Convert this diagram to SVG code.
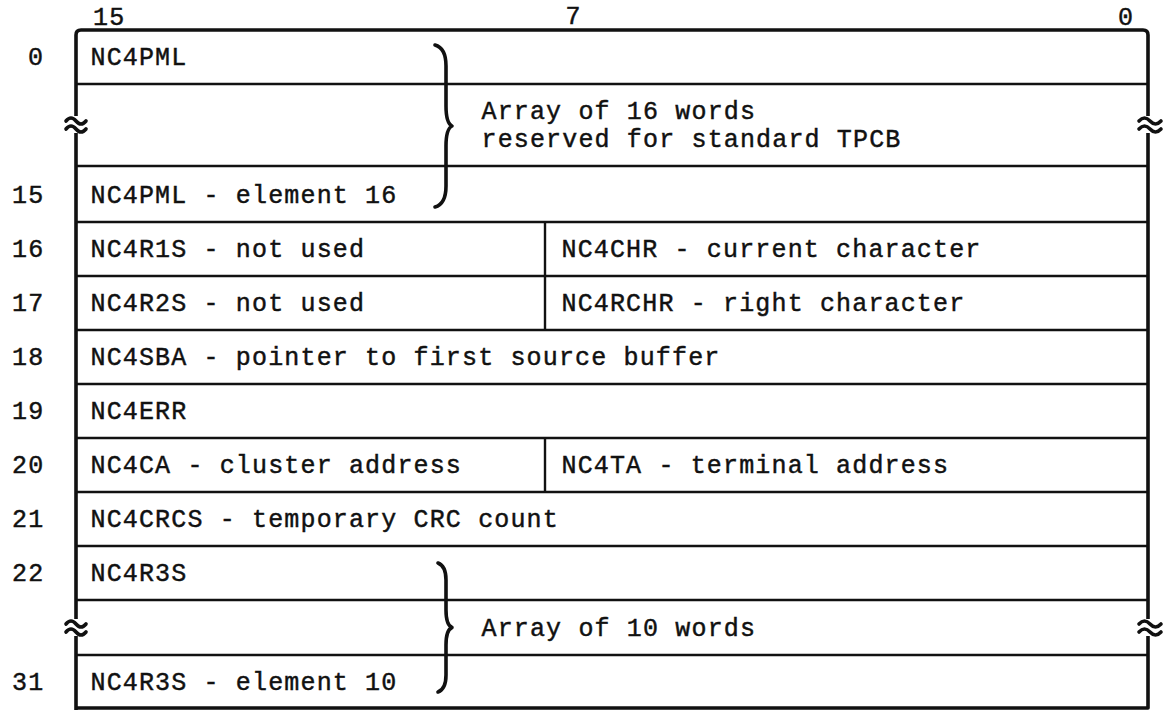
<svg xmlns="http://www.w3.org/2000/svg" width="1168" height="710" viewBox="0 0 1168 710">
<style>
  text { font-family: "Liberation Mono", "DejaVu Sans Mono", monospace; font-size: 25px; letter-spacing: 1.15px; fill: #111; stroke: #111; stroke-width: 0.45px; }
  .frame { fill: none; stroke: #111; stroke-width: 3.6; stroke-linejoin: round; }
  .row { fill: none; stroke: #111; stroke-width: 2.7; }
  .div { fill: none; stroke: #111; stroke-width: 2.4; }
  .brace { fill: none; stroke: #111; stroke-width: 3.6; stroke-linecap: round; stroke-linejoin: round; }
  .tilde { fill: none; stroke: #111; stroke-width: 3.6; stroke-linecap: round; }
  .gap { fill: #fff; stroke: none; }
</style>
<rect width="1168" height="710" fill="#fff"/>

<g id="bit-labels">
  <text x="93" y="25">15</text>
  <text x="565.5" y="24">7</text>
  <text x="1118" y="25">0</text>
</g>

<g id="frame">
  <path class="frame" d="M76,710 L76,35 Q76,30 81,30 L1143,30 Q1148,30 1148,35 L1148,708 L76,708"/>
</g>

<g id="connectors">
  <line class="row" x1="76" y1="84" x2="1148" y2="84"/>
  <line class="row" x1="76" y1="166" x2="1148" y2="166"/>
  <line class="row" x1="76" y1="222" x2="1148" y2="222"/>
  <line class="row" x1="76" y1="276" x2="1148" y2="276"/>
  <line class="row" x1="76" y1="330" x2="1148" y2="330"/>
  <line class="row" x1="76" y1="384" x2="1148" y2="384"/>
  <line class="row" x1="76" y1="438" x2="1148" y2="438"/>
  <line class="row" x1="76" y1="492" x2="1148" y2="492"/>
  <line class="row" x1="76" y1="546" x2="1148" y2="546"/>
  <line class="row" x1="76" y1="600" x2="1148" y2="600"/>
  <line class="row" x1="76" y1="655" x2="1148" y2="655"/>
  <line class="div" x1="545" y1="222" x2="545" y2="330"/>
  <line class="div" x1="545" y1="438" x2="545" y2="492"/>
</g>

<g id="breaks">
  <rect class="gap" x="70" y="116" width="12" height="17"/>
  <rect class="gap" x="1142" y="116" width="12" height="17"/>
  <rect class="gap" x="70" y="619" width="12" height="17"/>
  <rect class="gap" x="1142" y="619" width="12" height="17"/>
  <path class="tilde" d="M66,121 q5,-6 10,0 t10,0 M66,129 q5,-6 10,0 t10,0"/>
  <path class="tilde" d="M1139,121 q5.5,-6 11,0 t11,0 M1139,129 q5.5,-6 11,0 t11,0"/>
  <path class="tilde" d="M66,624 q5,-6 10,0 t10,0 M66,632 q5,-6 10,0 t10,0"/>
  <path class="tilde" d="M1139,624 q5.5,-6 11,0 t11,0 M1139,632 q5.5,-6 11,0 t11,0"/>
</g>

<g id="word-0">
  <text x="28" y="65">0</text>
  <text x="90.5" y="65">NC4PML</text>
</g>
<g id="array-16">
  <path class="brace" d="M435,45 Q446,48 446,66 L446,106 Q446,123 452,126 Q446,129 446,146 L446,186 Q446,204 435,207"/>
  <text x="481.5" y="119">Array of 16 words</text>
  <text x="481.5" y="146.5">reserved for standard TPCB</text>
</g>
<g id="word-15">
  <text x="12" y="202.5">15</text>
  <text x="90.5" y="202.5">NC4PML - element 16</text>
</g>
<g id="word-16">
  <text x="12" y="257">16</text>
  <text x="90.5" y="257">NC4R1S - not used</text>
  <text x="561.5" y="257">NC4CHR - current character</text>
</g>
<g id="word-17">
  <text x="12" y="311">17</text>
  <text x="90.5" y="311">NC4R2S - not used</text>
  <text x="561.5" y="311">NC4RCHR - right character</text>
</g>
<g id="word-18">
  <text x="12" y="365">18</text>
  <text x="90.5" y="365">NC4SBA - pointer to first source buffer</text>
</g>
<g id="word-19">
  <text x="12" y="419">19</text>
  <text x="90.5" y="419">NC4ERR</text>
</g>
<g id="word-20">
  <text x="12" y="473">20</text>
  <text x="90.5" y="473">NC4CA - cluster address</text>
  <text x="561.5" y="473">NC4TA - terminal address</text>
</g>
<g id="word-21">
  <text x="12" y="527">21</text>
  <text x="90.5" y="527">NC4CRCS - temporary CRC count</text>
</g>
<g id="word-22">
  <text x="12" y="581">22</text>
  <text x="90.5" y="581">NC4R3S</text>
</g>
<g id="array-10">
  <path class="brace" d="M438,563 Q446,566 446,580 L446,610 Q446,625 452,627.5 Q446,630 446,645 L446,675 Q446,689 438,692"/>
  <text x="481.5" y="635.5">Array of 10 words</text>
</g>
<g id="word-31">
  <text x="12" y="689.5">31</text>
  <text x="90.5" y="689.5">NC4R3S - element 10</text>
</g>
</svg>
